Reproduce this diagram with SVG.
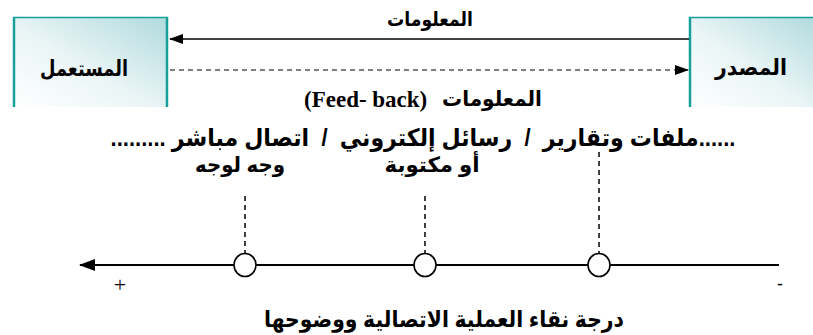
<svg xmlns="http://www.w3.org/2000/svg" width="813" height="335" viewBox="0 0 813 335">
  <defs>
    <linearGradient id="boxFill" x1="0" y1="1" x2="1" y2="0">
      <stop offset="0" stop-color="#ffffff"/>
      <stop offset="0.45" stop-color="#eaf5f6"/>
      <stop offset="1" stop-color="#b0dadd"/>
    </linearGradient>
    <marker id="head" viewBox="0 0 14 10" refX="13" refY="5" markerWidth="14" markerHeight="10" markerUnits="userSpaceOnUse" orient="auto">
      <path d="M0,0 L14,5 L0,10 Z" fill="#000"/>
    </marker>
    <marker id="bigHead" viewBox="0 0 16 12" refX="15" refY="6" markerWidth="16" markerHeight="12" markerUnits="userSpaceOnUse" orient="auto">
      <path d="M0,0 L16,6 L0,12 Z" fill="#000"/>
    </marker>
  </defs>
  <style>
    .ar { font-family: "Liberation Sans", "DejaVu Sans", sans-serif; font-weight: bold; fill: #000; }
    .en { font-family: "Liberation Serif", "Times New Roman", serif; font-weight: bold; fill: #000; }
    .edge { stroke: #17a09a; fill: none; }
    .line { stroke: #000; fill: none; }
    .dash { stroke: #000; fill: none; stroke-dasharray: 5 4; }
    .dot { fill: #fff; stroke: #000; stroke-width: 1.6; }
  </style>

  <!-- user box -->
  <g id="user">
    <rect x="13" y="17" width="155" height="90" fill="url(#boxFill)"/>
    <line class="edge" x1="13" y1="17.5" x2="168" y2="17.5" stroke-width="1.5"/>
    <line class="edge" x1="14" y1="17" x2="14" y2="107" stroke-width="2.5"/>
    <line class="edge" x1="167" y1="17" x2="167" y2="107" stroke-width="2.5"/>
    <text class="ar" x="84" y="76" font-size="22" text-anchor="middle" direction="rtl" textLength="88" lengthAdjust="spacingAndGlyphs">المستعمل</text>
  </g>

  <!-- source box -->
  <g id="source">
    <rect x="689" y="17" width="130" height="90" fill="url(#boxFill)"/>
    <line class="edge" x1="689" y1="17.5" x2="813" y2="17.5" stroke-width="1.5"/>
    <line class="edge" x1="690" y1="17" x2="690" y2="107" stroke-width="2.5"/>
    <text class="ar" x="751" y="75" font-size="22" text-anchor="middle" direction="rtl" textLength="72" lengthAdjust="spacingAndGlyphs">المصدر</text>
  </g>

  <!-- connectors -->
  <g id="connectors">
    <line class="line" x1="689" y1="39" x2="170" y2="39" stroke-width="1.5" marker-end="url(#head)"/>
    <line class="dash" x1="170" y1="70" x2="688" y2="70" stroke-width="1.2" marker-end="url(#head)"/>
    <line class="line" x1="779" y1="265" x2="80" y2="265" stroke-width="2" marker-end="url(#bigHead)"/>
    <line class="dash" x1="245" y1="196" x2="245" y2="254" stroke-width="1.5"/>
    <line class="dash" x1="425" y1="196" x2="425" y2="254" stroke-width="1.5"/>
    <line class="dash" x1="599" y1="152" x2="599" y2="254" stroke-width="1.5"/>
  </g>

  <!-- scale points -->
  <g id="point-direct"><ellipse class="dot" cx="245" cy="265" rx="11" ry="11.5"/></g>
  <g id="point-written"><ellipse class="dot" cx="425" cy="265" rx="11" ry="11.5"/></g>
  <g id="point-files"><ellipse class="dot" cx="599" cy="265" rx="11" ry="11.5"/></g>

  <!-- labels -->
  <g id="labels">
    <text class="ar" x="430" y="26" font-size="20" text-anchor="middle" direction="rtl" textLength="86" lengthAdjust="spacingAndGlyphs">المعلومات</text>
    <text class="en" x="304" y="107" font-size="23">(Feed- back)</text>
    <text class="ar" x="492" y="106" font-size="21" text-anchor="middle" direction="rtl" textLength="100" lengthAdjust="spacingAndGlyphs">المعلومات</text>
    <text class="ar" x="423" y="146" font-size="24" text-anchor="middle" direction="rtl" xml:space="preserve" textLength="625" lengthAdjust="spacingAndGlyphs">......ملفات وتقارير  /  رسائل إلكتروني  /  اتصال مباشر .........</text>
    <text class="ar" x="432" y="172" font-size="21" text-anchor="middle" direction="rtl" textLength="95" lengthAdjust="spacingAndGlyphs">أو مكتوبة</text>
    <text class="ar" x="240" y="172" font-size="21" text-anchor="middle" direction="rtl" textLength="90" lengthAdjust="spacingAndGlyphs">وجه لوجه</text>
    <text x="120" y="292" font-family="Liberation Serif, serif" font-size="22" fill="#000" text-anchor="middle">+</text>
    <text x="780" y="290" font-family="Liberation Sans, sans-serif" font-size="18" fill="#000" text-anchor="middle">-</text>
    <text class="ar" x="444" y="327" font-size="23" text-anchor="middle" direction="rtl" textLength="360" lengthAdjust="spacingAndGlyphs">درجة نقاء العملية الاتصالية ووضوحها</text>
  </g>
</svg>
